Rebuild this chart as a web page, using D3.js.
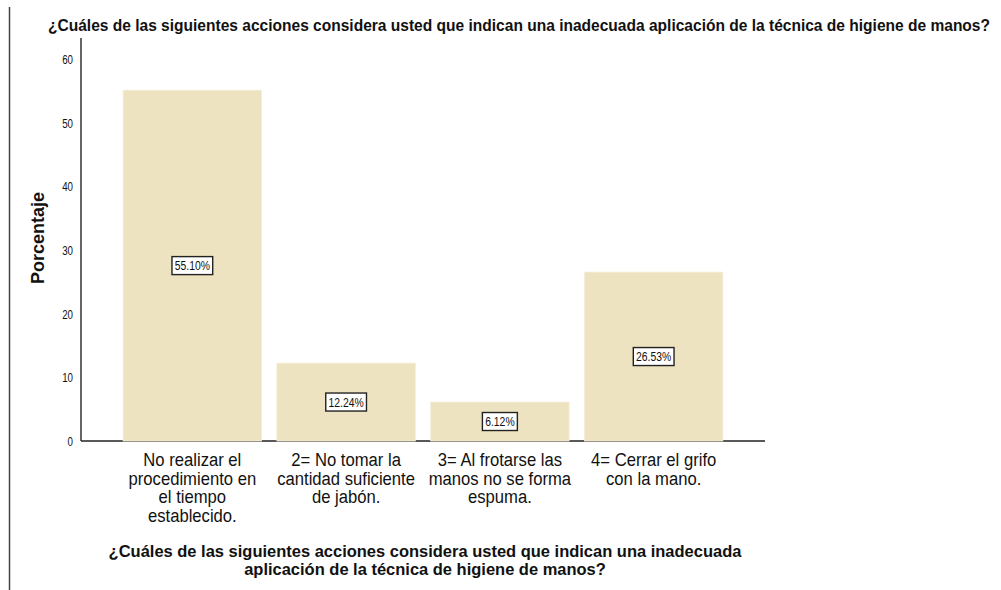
<!DOCTYPE html>
<html>
<head>
<meta charset="utf-8">
<script src="https://cdn.jsdelivr.net/npm/d3@7"></script>
<style>
  body { margin: 0; background: #fff; }
  svg { display: block; }
  text { font-family: "Liberation Sans", Arial, sans-serif; fill: #111; }
  .title { font-weight: bold; }
</style>
</head>
<body>
<svg id="chart" width="1001" height="590"></svg>
<script>
const categories = [
  ["No realizar el", "procedimiento en", "el tiempo", "establecido."],
  ["2= No tomar la", "cantidad suficiente", "de jabón."],
  ["3= Al frotarse las", "manos no se forma", "espuma."],
  ["4= Cerrar el grifo", "con la mano."]
];
const values = [55.10, 12.24, 6.12, 26.53];
const yTicks = [0, 10, 20, 30, 40, 50, 60];
const titleText = "¿Cuáles de las siguientes acciones considera usted que indican una inadecuada aplicación de la técnica de higiene de manos?";
const xTitleLines = ["¿Cuáles de las siguientes acciones considera usted que indican una inadecuada", "aplicación de la técnica de higiene de manos?"];

const svg = d3.select("#chart");
const x0 = 81, x1 = 765, yBottom = 441, yTop = 59;
const squeeze = 0.9; // the original text is horizontally condensed

const x = d3.scaleBand().domain(d3.range(values.length)).range([x0, x1])
    .paddingInner(0.1).paddingOuter(0.274);
const y = d3.scaleLinear().domain([0, 60]).range([yBottom, yTop]);

// frame line on the left
svg.append("line").attr("x1", 9.5).attr("x2", 9.5).attr("y1", 7).attr("y2", 590)
    .attr("stroke", "#444").attr("stroke-width", 1.5);

// top title
svg.append("text").attr("class", "title").attr("x", 48).attr("y", 31)
    .style("font-size", "17px")
    .attr("textLength", 942).attr("lengthAdjust", "spacingAndGlyphs")
    .text(titleText);

// x axis baseline (under bars)
svg.append("line").attr("x1", x0).attr("x2", x1).attr("y1", yBottom).attr("y2", yBottom)
    .attr("stroke", "#222").attr("stroke-width", 1.5);

// y axis
const yAxis = svg.append("g").attr("transform", `translate(${x0},0)`)
    .call(d3.axisLeft(y).tickValues(yTicks).tickSize(0).tickPadding(0));
yAxis.select(".domain").remove();
yAxis.selectAll("text")
    .attr("x", null).attr("dy", null)
    .attr("transform", "translate(-8,4.5) scale(0.75,1)")
    .style("font-size", "13px").style("font-family", null);
svg.append("line").attr("x1", x0).attr("x2", x0).attr("y1", 38).attr("y2", yBottom)
    .attr("stroke", "#333").attr("stroke-width", 1.5);

// y axis title
svg.append("text").attr("class", "title")
    .attr("transform", `translate(44,238) rotate(-90)`)
    .attr("text-anchor", "middle").style("font-size", "18px").text("Porcentaje");

// bars
svg.selectAll("rect.bar").data(values).join("rect").attr("class", "bar")
    .attr("x", (d, i) => x(i)).attr("width", x.bandwidth())
    .attr("y", d => y(d)).attr("height", d => yBottom - y(d))
    .attr("fill", "#ede3c1").attr("stroke", "#f4eed8").attr("stroke-width", 0.8);

// value labels
const lab = svg.selectAll("g.lab").data(values).join("g").attr("class", "lab")
    .attr("transform", (d, i) => `translate(${x(i) + x.bandwidth() / 2},${y(d / 2)})`);
lab.append("text").attr("text-anchor", "middle").attr("dy", "0.36em")
    .attr("transform", "scale(0.8,1)")
    .style("font-size", "13px")
    .text(d => d.toFixed(2) + "%");
lab.each(function () {
  const g = d3.select(this);
  const bb = g.select("text").node().getBBox();
  const w = bb.width * 0.8;
  g.insert("rect", "text").attr("x", -w / 2 - 2.5).attr("y", -9)
      .attr("width", w + 5).attr("height", 18)
      .attr("fill", "#fff").attr("stroke", "#222").attr("stroke-width", 1.4);
});

// category labels
const cat = svg.selectAll("g.cat").data(categories).join("g").attr("class", "cat")
    .attr("transform", (d, i) => `translate(${x(i) + x.bandwidth() / 2},0) scale(${squeeze},1)`);
cat.append("text").attr("text-anchor", "middle").style("font-size", "18.5px")
    .selectAll("tspan").data(d => d).join("tspan")
    .attr("x", 0).attr("y", (d, j) => 466 + j * 18.7).text(d => d);

// x axis title
const xt = svg.append("g").attr("transform", `translate(${(x0 + x1) / 2 + 2},0) scale(0.97,1)`);
xt.append("text").attr("class", "title").attr("text-anchor", "middle")
    .style("font-size", "17px")
    .selectAll("tspan").data(xTitleLines).join("tspan")
    .attr("x", 0).attr("y", (d, i) => 557 + i * 18.5).text(d => d);
</script>
</body>
</html>
